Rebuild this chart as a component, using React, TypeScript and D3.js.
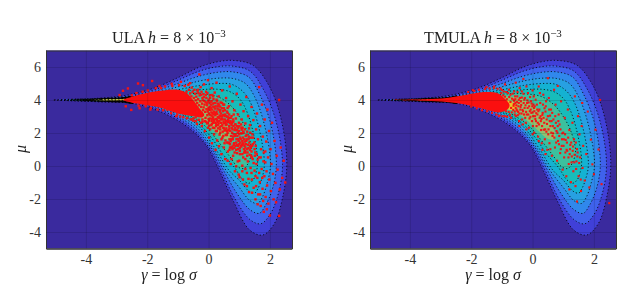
import { useEffect, useRef } from 'react';
import * as d3 from 'd3';

type Pt = [number, number];

const xTicks = [-4, -2, 0, 2];
const yTicks = [-4, -2, 0, 2, 4, 6];
const bandColors = ['#4040d8', '#3f62ec', '#3088ec', '#27a0e2', '#14b2d2', '#18bcba', '#3cc09e', '#90c070', '#e8c42c'];

// contours, outermost first
const level1: Pt[] = [[-5.07, 4], [-4.3, 4.05], [-3.5, 4.12], [-2.7, 4.28], [-1.81, 4.7], [-0.95, 5.4], [-0.29, 6.0], [0.25, 6.3], [0.79, 6.4], [1.45, 6.1], [1.99, 4.8], [2.37, 2.8], [2.55, 0.16], [2.42, -1.86], [2.15, -3.47], [1.77, -4.18], [1.34, -3.88], [0.79, -2.06], [0.34, -0.24], [-0.09, 1.27], [-0.7, 2.38], [-1.57, 3.29], [-2.44, 3.78], [-3.5, 3.88], [-4.3, 3.95]];
const level2: Pt[] = [[-4.9, 4], [-3.5, 4.1], [-2.7, 4.22], [-1.8, 4.6], [-1, 5.2], [-0.3, 5.75], [0.3, 6.02], [0.8, 6.05], [1.35, 5.75], [1.8, 4.6], [2.2, 2.7], [2.41, 0.1], [2.27, -1.7], [2.0, -2.95], [1.7, -3.5], [1.35, -3.25], [0.85, -1.95], [0.42, -0.3], [0, 1.15], [-0.62, 2.4], [-1.5, 3.35], [-2.4, 3.82], [-3.5, 3.9]];
const level3: Pt[] = [[-4.7, 4], [-3.5, 4.08], [-2.7, 4.18], [-1.8, 4.5], [-1, 5.0], [-0.3, 5.45], [0.3, 5.68], [0.8, 5.7], [1.3, 5.4], [1.65, 4.4], [2.02, 2.6], [2.21, 0.1], [2.08, -1.4], [1.85, -2.4], [1.65, -2.87], [1.35, -2.65], [0.92, -1.65], [0.5, -0.3], [0.08, 1.1], [-0.55, 2.45], [-1.45, 3.4], [-2.35, 3.85], [-3.5, 3.92]];
const level4: Pt[] = [[-4.5, 4], [-3.5, 4.07], [-2.7, 4.15], [-1.8, 4.42], [-1, 4.8], [-0.3, 5.15], [0.3, 5.32], [0.8, 5.3], [1.2, 5.0], [1.5, 4.2], [1.82, 2.5], [2.02, 0.1], [1.9, -1.1], [1.75, -1.9], [1.6, -2.27], [1.35, -2.1], [1.0, -1.3], [0.58, -0.3], [0.15, 1.05], [-0.48, 2.5], [-1.4, 3.45], [-2.3, 3.88], [-3.5, 3.93]];
const level5: Pt[] = [[-4.3, 4], [-3.5, 4.06], [-2.7, 4.12], [-1.8, 4.35], [-1, 4.62], [-0.3, 4.88], [0.3, 5.0], [0.75, 4.95], [1.1, 4.55], [1.35, 3.9], [1.63, 2.4], [1.82, 0.1], [1.73, -0.8], [1.6, -1.4], [1.5, -1.65], [1.3, -1.5], [1.02, -0.9], [0.66, -0.25], [0.22, 1.05], [-0.4, 2.55], [-1.35, 3.5], [-2.25, 3.9], [-3.5, 3.94]];
const level6: Pt[] = [[-4.1, 4], [-3.5, 4.05], [-2.7, 4.1], [-1.8, 4.28], [-1, 4.48], [-0.3, 4.62], [0.3, 4.65], [0.7, 4.5], [1, 4.1], [1.2, 3.5], [1.42, 2.3], [1.6, 0.3], [1.55, -0.4], [1.45, -0.85], [1.3, -1.05], [1.1, -0.8], [0.85, -0.1], [0.45, 0.75], [0.1, 1.7], [-0.35, 2.6], [-1.3, 3.55], [-2.2, 3.92], [-3.5, 3.95]];
const level7: Pt[] = [[-3.9, 4], [-3.5, 4.04], [-2.7, 4.08], [-1.8, 4.22], [-1, 4.35], [-0.3, 4.38], [0.3, 4.2], [0.7, 3.7], [1.0, 3.0], [1.25, 2.1], [1.4, 0.9], [1.3, 0.2], [1.15, -0.15], [0.95, -0.05], [0.7, 0.55], [0.35, 1.4], [-0.1, 2.4], [-0.5, 2.95], [-1.25, 3.6], [-2.15, 3.93], [-3.5, 3.96]];
const level8: Pt[] = [[-4.0, 4], [-3.4, 4.05], [-2.7, 4.08], [-1.8, 4.15], [-1, 4.22], [-0.4, 4.1], [0, 3.7], [0.35, 3.1], [0.6, 2.5], [0.75, 1.9], [0.7, 1.6], [0.5, 1.65], [0.15, 2.2], [-0.3, 2.95], [-0.75, 3.45], [-1.3, 3.7], [-2.1, 3.9], [-3.4, 3.95]];
const level9: Pt[] = [[-3.75, 4], [-3.3, 4.03], [-2.7, 4.05], [-1.8, 4.08], [-1.1, 4.08], [-0.7, 3.9], [-0.5, 3.6], [-0.6, 3.4], [-0.9, 3.45], [-1.4, 3.75], [-2.1, 3.92], [-2.7, 3.95], [-3.3, 3.97]];
const contourLevels = [level1, level2, level3, level4, level5, level6, level7, level8, level9];
// the neck, where the contour lines run together and read as black
const neckBlack: Pt[] = [[-4.6, 4], [-4.0, 4.05], [-3.5, 4.11], [-3.0, 4.15], [-2.7, 4.2], [-2.45, 4.25], [-2.45, 3.78], [-2.7, 3.82], [-3.0, 3.85], [-3.5, 3.89], [-4.0, 3.95]];

// solid red part of each sample cloud
const ulaCore: Pt[] = [[-2.78, 4], [-2.5, 4.2], [-2.1, 4.4], [-1.5, 4.58], [-1.0, 4.62], [-0.7, 4.4], [-0.48, 3.95], [-0.3, 3.5], [-0.14, 3.1], [-0.2, 2.95], [-0.5, 3.02], [-0.85, 3.12], [-1.15, 3.28], [-1.6, 3.55], [-2.2, 3.75], [-2.5, 3.84]];
const tmulaCore: Pt[] = [[-4.7, 4], [-3.5, 4.05], [-2.8, 4.12], [-2.2, 4.3], [-1.6, 4.48], [-1.15, 4.42], [-0.92, 4.1], [-0.75, 3.7], [-0.82, 3.42], [-1.1, 3.25], [-1.6, 3.45], [-2.2, 3.72], [-2.8, 3.88], [-3.5, 3.95]];

const ulaSamples: Pt[] = [
  [-2.79, 4.56], [-2.63, 4.7], [-2.3, 5.0], [-2.14, 4.9], [-1.84, 5.15], [-2.52, 3.4], [-2.25, 3.5], [-2.9, 4.3], [-2.7, 3.62], [-1.9, 3.42], [-1.6, 4.85], [-1.2, 4.98], [-1.05, 3.02], [-0.9, 5.1], [-0.6, 5.02], [-0.3, 5.55],
  [-0.42, 2.72], [-0.35, 4.62], [-0.3, 3.05], [-0.26, 4.78], [-0.22, 2.42], [-0.2, 4.12], [-0.15, 4.95], [-0.12, 2.12], [-0.1, 3.88], [-0.08, 4.5], [-0.05, 2.58], [-0.02, 5.2], [0, 3.52], [0.02, 1.72], [0.04, 4.28], [0.05, 2.22], [0.08, 3.72], [0.1, 4.72], [0.11, 1.38], [0.13, 3.2], [0.15, 2.62], [0.16, 4.05], [0.18, 1.92], [0.2, 4.45], [0.21, 3.48], [0.23, 0.98], [0.25, 2.85], [0.26, 5.05], [0.28, 1.55], [0.3, 3.62], [0.31, 2.28],
  [0.33, 4.22], [0.34, 1.2], [0.36, 3.05], [0.38, 2.02], [0.39, 3.85], [0.41, 2.62], [0.42, 0.72], [0.44, 4.58], [0.45, 1.72], [0.47, 3.32], [0.48, 2.32], [0.5, 1.12], [0.51, 3.72], [0.53, 2.82], [0.54, 0.42], [0.56, 1.88], [0.57, 4.12], [0.59, 2.52], [0.6, 1.42], [0.62, 3.22], [0.63, 0.88], [0.65, 2.18], [0.66, 3.62], [0.68, 1.62], [0.69, 4.82], [0.71, 2.72], [0.72, 0.12], [0.74, 1.12], [0.75, 3.02], [0.77, 2.02], [0.78, 3.92], [0.8, 0.62], [0.81, 2.42], [0.83, 1.38], [0.84, 3.38], [0.86, -0.32], [0.87, 1.82], [0.89, 2.88], [0.9, 0.98], [0.92, 4.38], [0.93, 2.18], [0.95, 0.28], [0.96, 3.12], [0.98, 1.52], [0.99, 2.62], [1.01, -0.68], [1.02, 0.72], [1.04, 3.72], [1.05, 1.98], [1.07, 1.18],
  [1.08, 2.82], [1.1, 0.02], [1.11, 2.32], [1.13, 0.52], [1.14, 3.32], [1.16, 1.62], [1.17, -1.12], [1.19, 0.92], [1.2, 2.58], [1.22, 1.32], [1.23, 4.18], [1.25, -0.42], [1.26, 2.08], [1.28, 0.28], [1.29, 3.02], [1.31, 1.78], [1.32, -1.58], [1.34, 0.68], [1.35, 2.48], [1.37, -0.12], [1.38, 1.12], [1.4, 3.58], [1.41, -0.82], [1.43, 1.92], [1.44, 0.42], [1.46, 2.78], [1.47, -1.32], [1.49, 1.42], [1.5, -0.28], [1.52, 0.82], [1.53, -2.02], [1.55, 2.22], [1.56, 0.12], [1.58, 3.18], [1.59, -0.72], [1.61, 1.62], [1.62, -1.72], [1.64, 0.52], [1.65, 4.78], [1.67, -0.98], [1.68, 2.42], [1.7, -2.42], [1.71, 1.02], [1.73, -0.18], [1.74, 3.72],
  [1.76, -1.38], [1.77, 1.78], [1.79, 0.28], [1.8, -2.78], [1.82, -0.62], [1.83, 2.82], [1.85, 0.88], [1.86, -1.88], [1.88, 1.48], [1.89, -0.32], [1.91, -1.18], [1.92, 3.42], [1.94, 0.52], [1.95, -2.28], [1.97, 2.12], [1.98, -0.82], [2.0, -3.0], [2.02, 1.02], [2.03, -1.52], [2.05, 0.12], [2.07, 2.62], [2.1, -0.48], [2.12, -2.02], [2.15, 1.52], [2.18, -1.02], [2.2, -2.2], [2.22, 0.62], [2.25, -0.22], [2.3, 4.0], [2.32, -1.42], [2.35, 1.12], [2.4, -0.72], [2.5, -1.0], [2.3, -3.02], [2.45, 0.32],
  [-0.38, 3.3], [-0.18, 3.38], [-0.04, 3.08], [0.06, 2.88], [0.12, 3.42], [0.22, 3.08], [0.27, 2.12], [0.35, 2.72], [0.4, 3.18], [0.46, 2.08], [0.52, 3.02], [0.58, 2.28], [0.61, 2.98], [0.67, 2.42], [0.7, 1.32], [0.76, 2.62], [0.79, 1.62], [0.85, 2.18], [0.88, 1.22], [0.94, 1.82], [0.97, 2.32], [1.03, 1.42], [1.06, 2.52], [1.12, 1.72], [1.15, 1.02], [1.18, 2.22], [1.24, 1.62], [1.27, 0.82], [1.33, 1.42], [1.36, 2.02], [1.42, 1.22], [1.45, 1.72], [1.51, 0.62], [1.54, 1.22],
  [-0.02, 2.32], [0.09, 2.48], [0.17, 2.82], [0.24, 2.42], [0.29, 2.68], [0.37, 2.38], [0.43, 2.88], [0.49, 2.68], [0.55, 2.18], [0.6, 1.88], [0.64, 2.68], [0.7, 2.12], [0.73, 1.82], [0.78, 2.22], [0.82, 1.92], [0.88, 2.52], [0.91, 1.62], [0.96, 1.22], [1.0, 1.92], [1.09, 1.28], [1.13, 2.08], [1.21, 1.82], [0.68, 0.98], [0.78, 1.18], [0.93, 0.78], [1.02, 1.08], [1.1, 0.72], [1.2, 0.42], [1.3, 1.08], [1.39, 0.62]
];
// soft edge of the ULA cloud around the solid part
const ulaFringe: Pt[] = [
  [-2.5, 4.28], [-2.35, 4.42], [-2.28, 3.66], [-2.15, 4.5], [-2.05, 3.62], [-1.98, 4.58], [-1.88, 3.52], [-1.72, 4.72], [-1.66, 3.42], [-1.55, 4.72], [-1.48, 3.38], [-1.42, 4.82], [-1.35, 3.42], [-1.22, 3.2], [-1.18, 4.85], [-1.02, 3.12], [-0.96, 4.9], [-0.92, 3.0], [-0.82, 2.96], [-0.78, 4.85], [-0.7, 2.9], [-0.66, 4.92], [-0.58, 2.82], [-0.55, 4.75], [-0.5, 2.88], [-0.46, 4.62], [-0.42, 2.95], [-0.36, 4.52], [-0.33, 4.42], [-0.25, 4.32], [-0.2, 2.82], [-0.17, 4.35], [-0.14, 3.95], [-0.1, 2.92], [-0.07, 4.12], [-0.05, 3.68], [-0.03, 3.3], [0, 4.02], [0.02, 2.75], [0.04, 3.58], [0.07, 3.9], [0.09, 3.25], [0.11, 2.55], [0.14, 3.78], [0.17, 3.3], [0.19, 2.3], [0.22, 3.82], [0.24, 3.2], [0.27, 2.78], [0.29, 3.48], [0.32, 2.95], [0.34, 3.72], [0.37, 3.3], [0.4, 2.82], [0.43, 3.5], [0.45, 2.5], [0.48, 3.1], [0.5, 2.28], [0.53, 3.38], [0.55, 2.62], [0.58, 3.02], [0.6, 2.12], [0.63, 2.78], [0.66, 1.38], [0.69, 2.62], [0.72, 1.5], [0.75, 2.48], [0.78, 1.02], [0.81, 2.7], [0.84, 1.1], [0.87, 2.32], [0.9, 1.42], [0.93, 2.42], [0.96, 1.02], [0.99, 2.12], [1.02, 0.92], [1.05, 1.62], [1.08, 2.2], [1.11, 1.38], [1.14, 2.02], [1.17, 1.22], [1.2, 0.82], [1.23, 1.52], [1.26, 0.62], [1.29, 1.28], [1.32, 2.28], [1.35, 0.98], [1.38, 1.72], [1.41, 0.52], [1.44, 1.32], [1.47, 0.18], [1.5, 1.02], [1.53, -0.62], [1.57, 0.72], [1.6, 0.38], [1.65, -0.42], [1.7, 0.52], [1.75, -0.72], [1.8, 0.82], [1.85, 0.22], [0.62, 0.32], [0.75, 0.42], [0.9, -0.02], [1.0, 0.32], [1.1, -0.32], [1.2, -0.18], [1.3, -0.78], [1.4, -0.42], [0.98, -0.52], [1.12, -0.82], [1.25, -1.22], [1.42, -1.62], [1.55, -1.22], [1.68, -1.72], [1.78, -2.12], [1.6, -2.32], [1.9, -2.62]
];
// the dense ridge running down from the solid part
const ulaRidgePoints: Pt[] = [
  [0.05, 3.4], [0.1, 3.05], [0.15, 2.95], [0.18, 3.58], [0.26, 3.3], [0.3, 2.95], [0.33, 2.58], [0.38, 3.38], [0.42, 2.42], [0.44, 3.02], [0.5, 2.6], [0.52, 2.15], [0.56, 2.48], [0.6, 2.72], [0.62, 2.02], [0.65, 1.42], [0.66, 2.9], [0.68, 2.28], [0.72, 2.58], [0.74, 1.62], [0.76, 2.3], [0.8, 1.78], [0.8, 2.82], [0.82, 1.28], [0.86, 2.52], [0.88, 1.92], [0.9, 2.18], [0.92, 1.28], [0.95, 2.02], [0.97, 1.62], [1.0, 1.32], [1.0, 2.42], [1.03, 1.72], [1.05, 1.22], [1.07, 2.32], [1.1, 1.52], [1.1, 1.98], [1.14, 1.32], [1.16, 0.82], [1.18, 1.48], [1.2, 1.12], [1.24, 1.88], [1.25, 1.02], [1.3, 1.62], [1.35, 1.22], [1.4, 0.88], [0.7, 1.12], [0.85, 0.82], [0.55, 1.55], [0.48, 1.82], [0.38, 2.22], [0.3, 2.48], [0.22, 2.62], [0.1, 2.72], [0.0, 2.85], [-0.02, 2.62], [-0.12, 2.72], [-0.25, 2.62], [-0.38, 2.55], [0.82, 3.12], [0.62, 3.52], [0.48, 3.72], [0.28, 3.95], [0.12, 4.3]
];
// dots that join the solid part to the ridge
const ulaBridge: Pt[] = [
  [-0.72, 4.5], [-0.64, 4.62], [-0.6, 4.4], [-0.56, 4.22], [-0.52, 4.5], [-0.48, 4.12], [-0.44, 4.38], [-0.42, 3.98], [-0.4, 4.2], [-0.37, 3.82], [-0.34, 4.05], [-0.31, 3.68], [-0.29, 4.28], [-0.27, 3.92], [-0.24, 3.58], [-0.23, 4.5], [-0.21, 3.78], [-0.19, 3.98], [-0.16, 3.55], [-0.15, 4.18], [-0.13, 3.72], [-0.11, 3.28], [-0.09, 4.3], [-0.07, 3.45], [-0.06, 3.82], [-0.04, 4.42], [-0.02, 3.42], [-0.01, 3.92], [0.01, 3.18], [0.03, 3.82], [0.05, 4.12], [0.06, 3.1], [0.08, 3.5], [0.1, 3.92], [0.12, 2.85], [0.13, 3.6], [0.15, 4.22], [0.16, 3.12], [0.18, 2.72], [0.19, 3.82], [0.2, 3.22], [0.23, 3.62], [0.25, 2.55], [0.26, 4.02], [0.28, 3.15], [0.3, 3.78], [0.33, 3.42], [0.35, 2.9], [0.38, 3.6], [0.41, 3.02], [0.44, 3.82], [0.46, 2.82], [0.5, 3.5], [0.54, 3.12], [0.57, 2.72], [0.6, 3.3], [0.64, 2.95], [0.67, 3.12], [0.72, 2.92], [0.78, 2.68], [-0.2, 2.68], [-0.32, 2.8], [-0.5, 2.75], [-0.08, 2.68], [0.02, 2.45], [0.14, 2.32], [0.24, 2.12], [0.36, 1.9], [0.42, 1.62], [0.52, 1.38]
];

const tmulaSamples: Pt[] = [
  [-1.95, 4.6], [-1.5, 4.78], [-1.1, 3.02], [-1.25, 4.82], [-0.9, 4.95], [-0.7, 2.92], [-0.55, 5.05], [-0.3, 5.28], [0.5, 5.32],
  [-0.6, 4.52], [-0.58, 3.3], [-0.54, 3.02], [-0.5, 4.22], [-0.46, 3.62], [-0.44, 2.72], [-0.42, 4.72], [-0.38, 3.92], [-0.36, 3.18], [-0.32, 2.52], [-0.3, 4.38], [-0.26, 3.52], [-0.24, 2.92], [-0.2, 4.82], [-0.18, 3.82], [-0.14, 3.12], [-0.12, 2.32], [-0.08, 4.18], [-0.06, 3.42], [-0.02, 2.72], [0, 4.58], [0.03, 3.72], [0.05, 2.02], [0.08, 3.02], [0.1, 4.02], [0.13, 2.42], [0.15, 3.42], [0.18, 1.78], [0.2, 4.82], [0.23, 2.92], [0.25, 3.82], [0.28, 2.18], [0.3, 1.38],
  [0.33, 3.22], [0.35, 4.32], [0.38, 2.62], [0.4, 1.62], [0.43, 3.62], [0.45, 2.08], [0.48, 0.98], [0.5, 3.02], [0.53, 4.12], [0.55, 1.38], [0.58, 2.42], [0.6, 3.42], [0.63, 0.62], [0.65, 1.82], [0.68, 2.82], [0.7, 4.62], [0.73, 1.12], [0.75, 3.72], [0.78, 2.12], [0.8, 0.32], [0.83, 1.52], [0.85, 3.12], [0.88, 2.52], [0.9, 0.78], [0.93, 3.92], [0.95, 1.22], [0.98, -0.22], [1.0, 2.02], [1.03, 0.52], [1.05, 2.92], [1.08, 1.58], [1.1, -0.62], [1.13, 0.92], [1.15, 3.42], [1.18, 0.12], [1.2, 2.18], [1.23, 1.28],
  [1.25, -0.98], [1.28, 0.58], [1.3, 2.62], [1.33, -0.32], [1.35, 1.62], [1.38, 4.22], [1.4, -1.22], [1.43, 0.28], [1.45, 1.02], [1.48, 3.02], [1.5, -0.62], [1.53, 1.92], [1.55, 0.52], [1.58, -1.52], [1.6, 2.42], [1.63, -0.12], [1.65, 1.22], [1.7, -0.88], [1.75, 0.72], [1.8, 3.3], [1.85, -1.3], [1.9, 1.6], [1.95, 0.1], [2.0, -0.5], [2.05, 2.2], [2.15, 1.0], [2.2, 4.0], [2.25, -1.1], [2.5, -2.25], [1.45, -2.15], [1.2, -1.42], [0.82, 4.85], [1.62, 3.82],
  [-0.56, 3.82], [-0.48, 3.08], [-0.4, 3.42], [-0.34, 2.82], [-0.28, 3.12], [-0.22, 2.62], [-0.16, 3.52], [-0.1, 2.88], [-0.04, 3.22], [0.01, 2.42], [0.06, 3.32], [0.11, 2.72], [0.16, 3.12], [0.21, 2.52], [0.26, 3.02], [0.31, 2.42], [0.36, 2.92], [0.41, 2.22], [0.46, 2.82], [0.51, 1.92], [0.56, 2.72], [0.61, 2.02], [0.66, 2.42], [0.71, 1.72], [0.76, 2.62], [0.81, 2.02], [0.86, 1.32], [0.91, 2.22], [0.96, 1.62], [1.01, 1.22], [1.06, 1.92], [1.11, 0.98], [1.16, 1.72], [1.21, 0.72], [1.26, 1.42], [1.31, 0.92], [1.36, 0.22], [1.41, 1.42], [1.46, 0.58],
  [-0.45, 4.02], [-0.35, 4.52], [-0.25, 4.12], [-0.15, 4.42], [-0.05, 3.92], [0.04, 4.22], [0.14, 3.72], [0.24, 4.42], [0.34, 3.72], [0.44, 3.92], [0.54, 3.42], [0.64, 3.22], [0.74, 3.02], [0.84, 2.72], [-0.62, 4.02], [-0.52, 3.42], [-0.43, 2.42], [-0.2, 2.22], [0.0, 1.92], [0.2, 1.52], [0.32, 0.98], [0.42, 0.72], [0.58, 1.02]
];
// soft edge of the TMULA cloud around the solid part
const tmulaFringe: Pt[] = [
  [-2.1, 4.48], [-2.0, 3.6], [-1.9, 4.55], [-1.82, 3.5], [-1.75, 4.62], [-1.65, 3.38], [-1.55, 4.68], [-1.48, 3.32], [-1.4, 4.7], [-1.32, 3.22], [-1.26, 4.72], [-1.18, 3.12], [-1.14, 4.68], [-1.08, 3.05], [-1.04, 4.7], [-1.0, 4.6], [-0.98, 3.02], [-0.94, 4.52], [-0.9, 3.02], [-0.86, 4.48], [-0.83, 2.98], [-0.8, 4.42], [-0.77, 4.62], [-0.74, 3.08], [-0.72, 4.32], [-0.68, 3.25], [-0.65, 4.38], [-0.62, 3.65], [-0.6, 3.95], [-0.57, 4.22], [-0.55, 3.52], [-0.51, 3.88], [-0.49, 4.48], [-0.47, 3.28], [-0.41, 4.12], [-0.37, 3.7], [-0.31, 3.32], [-0.27, 4.02], [-0.21, 3.28], [-0.17, 3.98], [-0.11, 3.62], [-0.07, 2.98], [-0.01, 3.62], [0.02, 3.02], [0.07, 3.62], [0.12, 3.2], [0.17, 2.62], [0.22, 3.42], [0.27, 2.72], [0.32, 3.1], [0.37, 2.2], [0.42, 3.3], [0.47, 2.55], [0.52, 2.22], [0.57, 3.05], [0.62, 2.72], [0.67, 1.98], [0.72, 2.3], [0.77, 1.42], [0.82, 2.42], [0.87, 1.82], [0.92, 1.02], [0.97, 1.98], [1.02, 1.62], [1.07, 0.82], [1.12, 1.42], [1.17, 0.52], [1.22, 1.02], [1.27, 0.22], [1.32, 1.18], [1.37, 0.68], [1.42, -0.18], [1.47, 0.82], [1.52, 0.18], [1.57, -0.82]
];
// dots that join the solid part to the open cloud
const tmulaBridge: Pt[] = [
  [-1.02, 4.42], [-0.96, 4.28], [-0.9, 4.2], [-0.87, 3.32], [-0.84, 4.05], [-0.78, 3.28], [-0.76, 4.18], [-0.72, 3.88], [-0.7, 3.52], [-0.67, 4.08], [-0.63, 3.4], [-0.61, 3.75], [-0.58, 3.12], [-0.56, 4.05], [-0.53, 3.68], [-0.5, 3.35], [-0.45, 3.82], [-0.43, 3.18], [-0.39, 3.58], [-0.35, 4.15], [-0.33, 3.4], [-0.29, 3.82], [-0.23, 3.68], [-0.19, 3.12], [-0.13, 3.85], [-0.09, 3.32], [-0.03, 3.78], [0.0, 3.25], [0.05, 3.52], [0.09, 2.85], [0.19, 3.32], [0.29, 2.85], [0.39, 3.5]
];

const panelW = 246;
const panelH = 198;

const Title = ({ name, cx }: { name: string; cx: number }) => (
  <text x={cx} y={43} textAnchor="middle" fontSize={16} fill="#222">
    {name} <tspan fontStyle="italic">h</tspan> = 8 × 10
    <tspan dy={-6} fontSize={11}>−3</tspan>
  </text>
);

function Panel({ left, core, samples, dot }: { left: number; core: Pt[]; samples: Pt[]; dot: number }) {
  const node = useRef<SVGGElement>(null);
  useEffect(() => {
    if (!node.current) return;
    const x = d3.scaleLinear().domain([-5.3, 2.72]).range([0, panelW]);
    const y = d3.scaleLinear().domain([-5, 7]).range([panelH, 0]);
    const board = d3.select(node.current);
    board.selectAll('*').remove();

    board.append('rect').attr('width', panelW).attr('height', panelH).attr('fill', '#3a2a9e');

    const line = d3.line<Pt>()
      .x((d) => x(d[0]))
      .y((d) => y(d[1]))
      .curve(d3.curveCatmullRomClosed.alpha(0.5));

    /** filled contour bands, black neck under the two top ones */
    const bands = board.append('g');
    contourLevels.forEach((level, i) => {
      if (i === 7) bands.append('path').attr('d', line(neckBlack)).attr('fill', '#0a0a0a');
      bands.append('path').attr('d', line(level)).attr('fill', bandColors[i]);
    });
    board.selectAll('path.edge')
      .data(contourLevels.slice(0, 7))
      .enter()
      .append('path')
      .attr('class', 'edge')
      .attr('d', (d) => line(d))
      .attr('fill', 'none')
      .attr('stroke', '#000')
      .attr('stroke-width', 0.8)
      .attr('stroke-dasharray', '1.2 2.2');

    /** samples */
    board.append('path')
      .attr('d', line(core))
      .attr('fill', '#fb0f0f');
    board.selectAll('rect.sample')
      .data(samples)
      .enter()
      .append('rect')
      .attr('class', 'sample')
      .attr('x', (d) => x(d[0]) - dot / 2)
      .attr('y', (d) => y(d[1]) - dot / 2)
      .attr('width', dot)
      .attr('height', dot)
      .attr('fill', '#f51414');

    /** Axis */
    const xAxis = board.append('g')
      .attr('transform', 'translate(0,' + panelH + ')')
      .call(d3.axisBottom(x).tickValues(xTicks).tickFormat((d) => String(d)).tickSize(-panelH).tickPadding(6));
    const yAxis = board.append('g')
      .call(d3.axisLeft(y).tickValues(yTicks).tickFormat((d) => String(d)).tickSize(-panelW).tickPadding(5));
    [xAxis, yAxis].forEach((g) => {
      g.selectAll('.tick line').attr('stroke', '#000').attr('stroke-opacity', 0.18).attr('stroke-width', 0.7);
      g.selectAll('.tick text').attr('font-family', '"Liberation Serif"').attr('font-size', 14).attr('fill', '#333');
      g.select('.domain').attr('stroke', '#333').attr('stroke-width', 1);
    });
  }, [left, core, samples, dot]);
  return <g ref={node} transform={`translate(${left},50.5)`} />;
}

const ulaAll = ulaSamples.concat(ulaFringe, ulaRidgePoints, ulaBridge);
const tmulaAll = tmulaSamples.concat(tmulaFringe, tmulaBridge);

export default function App() {
  return (
    <svg width={640} height={286} style={{ position: 'absolute', left: 0, top: 0 }} fontFamily='"Liberation Serif"'>
      <defs>
        <filter id="soft"><feGaussianBlur stdDeviation="0.3" /></filter>
      </defs>
      <Panel left={46} core={ulaCore} samples={ulaAll} dot={2.4} />
      <Panel left={370} core={tmulaCore} samples={tmulaAll} dot={2.1} />
      <g filter="url(#soft)">
        <Title name="ULA" cx={169} />
        <Title name="TMULA" cx={493} />
        <text x={169} y={280} textAnchor="middle" fontSize={16} fill="#222"><tspan fontStyle="italic">γ</tspan> = log <tspan fontStyle="italic">σ</tspan></text>
        <text x={493} y={280} textAnchor="middle" fontSize={16} fill="#222"><tspan fontStyle="italic">γ</tspan> = log <tspan fontStyle="italic">σ</tspan></text>
        <text transform="translate(26,149) rotate(-90)" textAnchor="middle" fontSize={16} fontStyle="italic" fill="#222">μ</text>
        <text transform="translate(352,149) rotate(-90)" textAnchor="middle" fontSize={16} fontStyle="italic" fill="#222">μ</text>
      </g>
    </svg>
  );
}
